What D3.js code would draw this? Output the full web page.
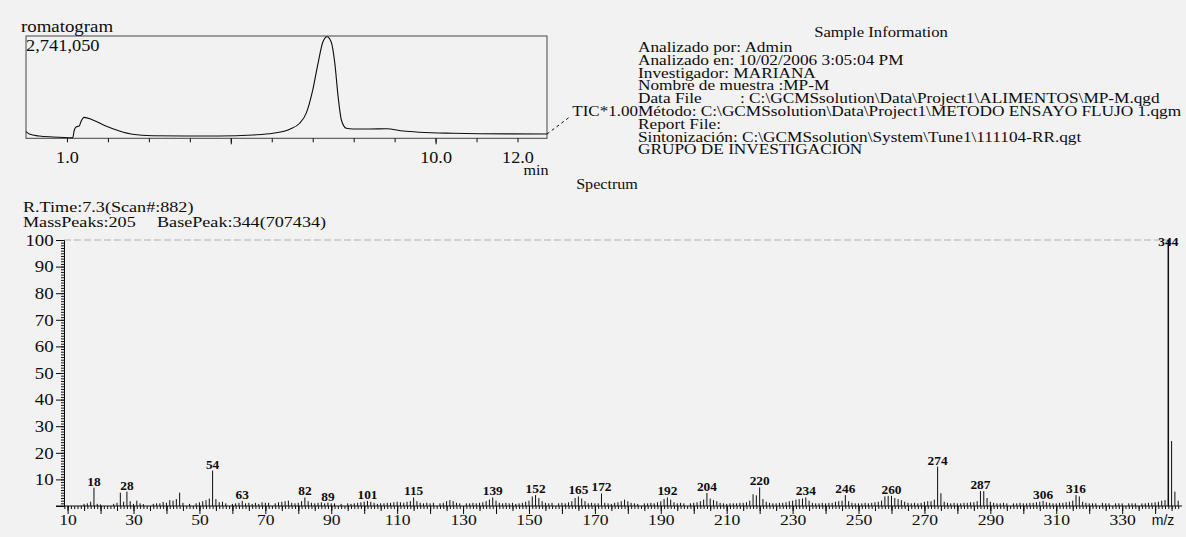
<!DOCTYPE html>
<html>
<head>
<meta charset="utf-8">
<script src="https://cdn.jsdelivr.net/npm/d3@7"></script>
<style>
  body { margin: 0; background: #f2f2f2; }
  svg { display: block; font-family: "Liberation Serif", serif; }
</style>
</head>
<body>
<svg id="chart"></svg>
<script>
// chromatogram (TIC), time in min and % of 2,741,050
const chromTime = [0.0, 0.08, 0.32, 0.65, 1.14, 1.18, 1.23, 1.30, 1.34, 1.42, 1.63, 1.95, 2.28, 2.60, 3.09, 3.91,
  4.72, 5.54, 6.03, 6.44, 6.68, 6.84, 7.00, 7.13, 7.25, 7.35, 7.45, 7.54, 7.62, 7.70, 7.82, 7.98, 8.39, 8.80,
  9.21, 9.61, 10.43, 11.08, 12.72];
const chromIntensity = [6.5, 4.2, 2.2, 1.3, 0.6, 8.1, 11.3, 12.0, 16.2, 20.5, 17.9, 12.0, 7.1, 3.9, 2.5, 2.2,
  2.2, 3.2, 4.9, 8.8, 14.7, 24.4, 47.2, 73.3, 94.4, 99.3, 94.4, 73.3, 40.7, 17.9, 9.8, 9.1, 9.1, 9.4,
  7.1, 5.9, 4.9, 4.5, 4.2];
const chromTickLabels = [1, 10, 12];

const sampleInfo = [
  "Analizado por: Admin",
  "Analizado en: 10/02/2006 3:05:04 PM",
  "Investigador: MARIANA",
  "Nombre de muestra :MP-M",
  "Data File",
  "Método: C:\\GCMSsolution\\Data\\Project1\\METODO ENSAYO FLUJO 1.qgm",
  "Report File:",
  "Sintonización: C:\\GCMSsolution\\System\\Tune1\\111104-RR.qgt",
  "GRUPO DE INVESTIGACION"
];
const dataFile = ": C:\\GCMSsolution\\Data\\Project1\\ALIMENTOS\\MP-M.qgd";

// mass spectrum at 7.3 min, relative intensity %
const mzValues = [15, 16, 17, 18, 19, 20, 24, 25, 26, 27, 28, 29, 30, 31, 32, 33, 36, 37, 38, 39, 40, 41, 42, 43, 44, 45,
  47, 49, 50, 51, 52, 53, 54, 55, 56, 57, 58, 60, 61, 62, 63, 64, 65, 66, 67, 68, 69, 70, 71, 73, 74, 75, 76, 77, 78,
  79, 80, 81, 82, 83, 84, 85, 86, 87, 88, 89, 90, 91, 93, 95, 96, 97, 98, 99, 100, 101, 102, 103, 104, 105, 106, 107,
  108, 109, 110, 111, 112, 113, 114, 115, 116, 117, 118, 119, 120, 121, 123, 124, 125, 126, 127, 128, 129, 131, 132,
  133, 134, 135, 136, 137, 138, 139, 140, 141, 142, 143, 144, 145, 146, 147, 148, 149, 150, 151, 152, 153, 154, 155,
  156, 157, 159, 160, 161, 162, 163, 164, 165, 166, 167, 168, 169, 170, 171, 172, 173, 174, 175, 176, 177, 178, 179,
  180, 181, 182, 183, 185, 186, 187, 188, 189, 190, 191, 192, 193, 194, 195, 196, 197, 199, 200, 201, 202, 203, 204,
  205, 206, 207, 208, 209, 210, 211, 212, 213, 214, 215, 216, 217, 218, 219, 220, 221, 222, 223, 224, 225, 226, 227,
  228, 229, 230, 231, 232, 233, 234, 235, 236, 237, 238, 239, 240, 241, 242, 243, 244, 245, 246, 247, 248, 249, 250,
  251, 252, 253, 254, 255, 256, 257, 258, 259, 260, 261, 262, 263, 264, 265, 266, 267, 268, 269, 270, 271, 272, 273,
  274, 275, 276, 277, 278, 279, 280, 281, 282, 283, 284, 285, 286, 287, 288, 289, 290, 291, 292, 293, 294, 295, 297,
  298, 299, 300, 301, 302, 303, 304, 305, 306, 307, 308, 309, 310, 311, 312, 313, 314, 315, 316, 317, 318, 319, 320,
  321, 322, 324, 325, 326, 328, 329, 330, 332, 333, 334, 336, 337, 338, 339, 340, 341, 342, 343, 344, 345, 346, 347];
const mzIntensity = [0.8, 1.0, 1.6, 6.9, 0.8, 0.6, 0.8, 1.2, 5.0, 1.6, 5.4, 1.8, 0.8, 2.0, 1.0, 0.7, 0.8, 1.0, 1.0, 1.5, 1.2, 2.2, 2.0, 2.6, 5.0, 1.2,
  0.8, 1.0, 1.4, 1.8, 2.2, 2.8, 13.3, 2.6, 1.4, 1.6, 1.0, 0.8, 1.0, 1.2, 1.9, 1.0, 1.2, 0.8, 1.2, 0.8, 1.4, 1.2, 1.2, 1.0, 1.4, 1.6, 1.8, 2.0, 1.2,
  1.0, 1.2, 1.8, 3.2, 1.8, 1.2, 1.0, 1.2, 1.4, 1.0, 1.3, 1.0, 1.0, 0.8, 1.0, 0.8, 1.0, 1.2, 1.4, 1.6, 1.9, 1.6, 1.2, 0.8, 1.0, 1.0, 1.2,
  1.2, 1.4, 1.6, 1.4, 1.2, 1.6, 1.8, 3.2, 1.8, 1.2, 1.0, 1.2, 1.0, 1.2, 1.0, 1.2, 1.8, 2.2, 1.8, 1.2, 1.0, 1.0, 1.0,
  1.2, 1.0, 1.2, 1.4, 1.8, 2.4, 3.2, 2.0, 1.2, 1.0, 1.2, 1.0, 1.2, 0.8, 1.0, 1.2, 1.6, 2.0, 3.6, 4.1, 3.0, 1.8, 1.2,
  1.0, 1.2, 1.0, 1.2, 1.0, 1.4, 1.8, 3.0, 3.6, 2.8, 1.8, 1.0, 1.2, 1.0, 1.0, 4.7, 1.2, 1.0, 0.8, 1.2, 1.4, 1.8, 2.4,
  1.8, 1.2, 1.0, 0.8, 1.0, 1.0, 1.2, 1.0, 1.4, 1.8, 2.6, 3.2, 2.4, 1.4, 1.0, 1.2, 1.0, 1.0, 1.2, 1.4, 1.8, 2.4, 4.9,
  2.8, 2.2, 1.8, 1.2, 1.0, 0.8, 1.0, 1.0, 1.0, 1.2, 1.2, 1.4, 2.0, 4.4, 4.0, 7.0, 2.6, 1.6, 1.2, 1.0, 1.0, 1.2, 1.2,
  1.4, 1.8, 2.0, 2.4, 2.6, 2.8, 3.2, 2.0, 1.2, 1.0, 1.0, 1.2, 1.0, 1.2, 1.2, 1.6, 1.8, 2.0, 4.1, 1.8, 1.2, 1.0, 1.0,
  1.0, 1.2, 1.0, 1.2, 1.4, 1.6, 2.0, 3.6, 3.8, 3.8, 3.0, 2.6, 2.2, 1.6, 1.2, 1.0, 1.2, 1.0, 1.2, 1.6, 1.8, 1.8, 2.4,
  14.8, 4.8, 1.6, 1.2, 1.0, 1.2, 1.0, 1.0, 1.2, 1.2, 1.4, 1.4, 1.8, 5.6, 5.6, 3.0, 1.6, 1.2, 1.0, 1.0, 1.2, 1.0, 1.0,
  1.0, 1.2, 1.0, 1.0, 1.2, 1.2, 1.4, 1.6, 1.9, 1.4, 1.2, 1.0, 1.0, 1.2, 1.2, 1.4, 1.6, 2.0, 4.1, 3.6, 1.6, 1.2, 1.0,
  1.0, 1.0, 1.2, 1.0, 1.0, 1.0, 1.0, 1.0, 1.0, 1.0, 1.0, 1.0, 1.0, 1.2, 1.2, 1.4, 1.6, 2.0, 2.2, 100, 24.4, 5.4, 2.0];
const labeledMz = [18, 28, 54, 63, 82, 89, 101, 115, 139, 152, 165, 172, 192, 204, 220, 234, 246, 260, 274, 287, 306, 316, 344];
const mzTickLabels = [10, 30, 50, 70, 90, 110, 130, 150, 170, 190, 210, 230, 250, 270, 290, 310, 330];
const relTickLabels = [10, 20, 30, 40, 50, 60, 70, 80, 90, 100];

const width = 1186, height = 537;
const ink = "#0d0d0d";
const sx = 1.15; // the scan is stretched sideways

const svg = d3.select("#chart").attr("width", width).attr("height", height);
svg.append("rect").attr("width", width).attr("height", height).attr("fill", "#f2f2f2");

function put(g, px, py, s, size, anchor, stretch) {
  return g.append("text")
    .attr("transform", `translate(${px},${py}) scale(${stretch || sx},1)`)
    .attr("font-size", size)
    .attr("text-anchor", anchor || "start")
    .attr("fill", ink)
    .text(s);
}

// ---- chromatogram ----
const chromX = d3.scaleLinear().domain([0, 12.72]).range([26, 547]);
const chromY = d3.scaleLinear().domain([0, 100]).range([138.3, 36]);
const chrom = svg.append("g");

chrom.append("rect")
  .attr("x", chromX(0)).attr("y", chromY(100))
  .attr("width", chromX(12.72) - chromX(0)).attr("height", chromY(0) - chromY(100))
  .attr("fill", "none").attr("stroke", "#444").attr("stroke-width", 1);

const chromPts = chromTime.map((t, i) => [t, chromIntensity[i]]);
chrom.append("path")
  .datum(chromPts)
  .attr("fill", "none").attr("stroke", ink).attr("stroke-width", 1.1)
  .attr("d", d3.line().x(d => chromX(d[0])).y(d => chromY(d[1])).curve(d3.curveMonotoneX));

const cAxis = chrom.append("g").attr("transform", `translate(0,${chromY(0)})`)
  .call(d3.axisBottom(chromX).tickValues(d3.range(1, 13)).tickSize(4).tickPadding(9)
    .tickFormat(d => chromTickLabels.includes(d) ? d.toFixed(1) : ""));
cAxis.select(".domain").remove();
cAxis.selectAll("line").attr("stroke", ink);
cAxis.selectAll("text").attr("font-size", 15.8).attr("font-family", "Liberation Serif")
  .attr("fill", ink).attr("transform", `scale(${sx},1)`);
const cAxis2 = chrom.append("g").attr("transform", `translate(0,${chromY(0)})`)
  .call(d3.axisBottom(chromX).tickValues([5, 10]).tickSize(6).tickFormat(""));
cAxis2.select(".domain").remove();
cAxis2.selectAll("line").attr("stroke", ink);

put(chrom, 536, 175, "min", 14, "middle");
put(chrom, 21, 32, "romatogram", 16.4);
put(chrom, 26, 51, "2,741,050", 16);

chrom.append("line")
  .attr("x1", chromX(12.72)).attr("y1", chromY(4.2))
  .attr("x2", 571).attr("y2", 116)
  .attr("stroke", ink).attr("stroke-dasharray", "3,3");

// ---- sample information ----
const info = svg.append("g");
const lineStep = 12.8, firstLine = 52, infoStretch = 1.27;
put(info, 881, 37, "Sample Information", 14.5, "middle");
sampleInfo.forEach((s, i) => {
  put(info, 638, firstLine + i * lineStep, s, 13.6, "start", infoStretch);
});
put(info, 740, firstLine + 4 * lineStep, dataFile, 13.6, "start", infoStretch);
put(info, 638, firstLine + 5 * lineStep, "TIC*1.00", 14.8, "end");
put(info, 607, 189, "Spectrum", 14, "middle");

// ---- mass spectrum ----
const x = d3.scaleLinear().domain([10, 344]).range([67.6, 1168.3]);
const y = d3.scaleLinear().domain([0, 100]).range([506, 240]);
const spec = svg.append("g");

put(spec, 23, 211.5, "R.Time:7.3(Scan#:882)", 14.5, "start", 1.25);
put(spec, 23, 227, "MassPeaks:205", 14.5, "start", 1.25);
put(spec, 157, 227, "BasePeak:344(707434)", 14.5, "start", 1.25);

// top reference line
spec.append("line")
  .attr("x1", 64).attr("x2", 1178).attr("y1", y(100)).attr("y2", y(100))
  .attr("stroke", "#b0b0b0").attr("stroke-dasharray", "7,3");

// y axis
const yMinor = spec.append("g").attr("transform", "translate(64,0)")
  .call(d3.axisLeft(y).tickValues(d3.range(0, 101)).tickSize(3).tickFormat(""));
yMinor.selectAll("line").attr("stroke", ink);
yMinor.select(".domain").attr("stroke", ink);
const yMajor = spec.append("g").attr("transform", "translate(64,0)")
  .call(d3.axisLeft(y).tickValues([0].concat(relTickLabels)).tickSize(8).tickPadding(1)
    .tickFormat(d => relTickLabels.includes(d) ? d : ""));
yMajor.select(".domain").remove();
yMajor.selectAll("line").attr("stroke", ink);
yMajor.selectAll("text").attr("font-size", 16.4).attr("font-family", "Liberation Serif")
  .attr("fill", ink).attr("transform", `scale(${sx},1)`);

// x axis
spec.append("line")
  .attr("x1", 56).attr("x2", 1182).attr("y1", y(0)).attr("y2", y(0))
  .attr("stroke", ink);
[[d3.range(9, 348), 3], [d3.range(10, 346, 5), 5]].forEach(([vals, size]) => {
  const g = spec.append("g").attr("transform", `translate(0,${y(0)})`)
    .call(d3.axisBottom(x).tickValues(vals).tickSize(size).tickFormat(""));
  g.select(".domain").remove();
  g.selectAll("line").attr("stroke", ink);
});
const xMajor = spec.append("g").attr("transform", `translate(0,${y(0)})`)
  .call(d3.axisBottom(x).tickValues(d3.range(10, 346, 10)).tickSize(8).tickPadding(0)
    .tickFormat(d => mzTickLabels.includes(d) ? d : ""));
xMajor.select(".domain").remove();
xMajor.selectAll("line").attr("stroke", ink);
xMajor.selectAll("text").attr("font-size", 15.3).attr("font-family", "Liberation Serif")
  .attr("fill", ink).attr("transform", `scale(${sx},1)`);

spec.append("text")
  .attr("x", 1163).attr("y", 525).attr("text-anchor", "middle")
  .attr("font-family", "Liberation Sans").attr("font-size", 14).attr("fill", ink)
  .text("m/z");

// peaks
const peaks = mzValues.map((m, i) => ({ m: m, v: mzIntensity[i] }));
spec.selectAll(".peak")
  .data(peaks)
  .enter().append("line")
  .attr("class", "peak")
  .attr("x1", d => x(d.m)).attr("x2", d => x(d.m))
  .attr("y1", y(0)).attr("y2", d => y(d.v))
  .attr("stroke", ink)
  .attr("stroke-width", d => d.v > 50 ? 1.5 : 1);

peaks.filter(d => labeledMz.includes(d.m)).forEach(d => {
  put(spec, x(d.m), Math.max(y(d.v) - 2, 246), d.m, 11.6, "middle").attr("font-weight", "bold");
});
</script>
</body>
</html>
